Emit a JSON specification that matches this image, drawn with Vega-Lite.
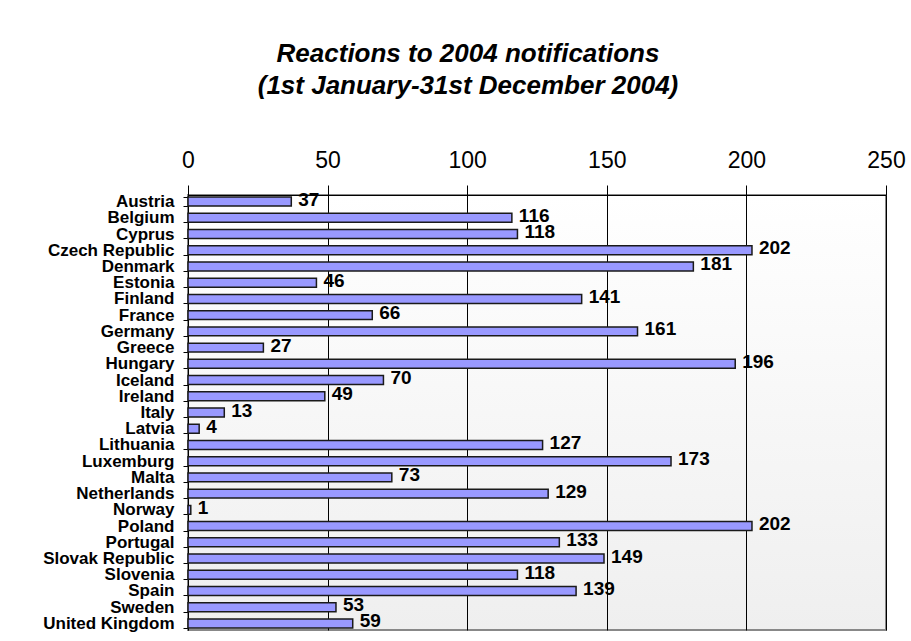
{
  "$schema": "https://vega.github.io/schema/vega-lite/v6.json",
  "width": 698,
  "height": 435,
  "autosize": {"type": "none"},
  "padding": {"left": 188, "top": 195, "right": 25, "bottom": 11},
  "background": "white",
  "title": {
    "text": ["Reactions to 2004 notifications ", "(1st January-31st December 2004)"],
    "font": "Liberation Sans",
    "fontSize": 26,
    "fontStyle": "italic",
    "fontWeight": "bold",
    "color": "black",
    "anchor": "middle",
    "dx": -69,
    "offset": 50,
    "lineHeight": 32
  },
  "config": {
    "font": "Liberation Sans",
    "view": {
      "stroke": "#888888",
      "strokeWidth": 2,
      "fill": {"gradient": "linear", "x1": 0, "y1": 0, "x2": 0, "y2": 1, "stops": [{"offset": 0, "color": "#ffffff"}, {"offset": 1, "color": "#efefef"}]}
    }
  },
  "data": {
    "values": [
      {"country": "Austria", "value": 37},
      {"country": "Belgium", "value": 116},
      {"country": "Cyprus", "value": 118},
      {"country": "Czech Republic", "value": 202},
      {"country": "Denmark", "value": 181},
      {"country": "Estonia", "value": 46},
      {"country": "Finland", "value": 141},
      {"country": "France", "value": 66},
      {"country": "Germany", "value": 161},
      {"country": "Greece", "value": 27},
      {"country": "Hungary", "value": 196},
      {"country": "Iceland", "value": 70},
      {"country": "Ireland", "value": 49},
      {"country": "Italy", "value": 13},
      {"country": "Latvia", "value": 4},
      {"country": "Lithuania", "value": 127},
      {"country": "Luxemburg", "value": 173},
      {"country": "Malta", "value": 73},
      {"country": "Netherlands", "value": 129},
      {"country": "Norway", "value": 1},
      {"country": "Poland", "value": 202},
      {"country": "Portugal", "value": 133},
      {"country": "Slovak Republic", "value": 149},
      {"country": "Slovenia", "value": 118},
      {"country": "Spain", "value": 139},
      {"country": "Sweden", "value": 53},
      {"country": "United Kingdom", "value": 59}
    ]
  },
  "encoding": {
    "y": {
      "field": "country",
      "type": "nominal",
      "sort": null,
      "scale": {"paddingInner": 0.45, "paddingOuter": 0.13},
      "axis": {
        "title": null,
        "labelFontSize": 17,
        "labelFontWeight": "bold",
        "labelColor": "black",
        "tickSize": 5,
        "tickColor": "black",
        "tickBand": "extent",
        "domainColor": "black",
        "labelPadding": 9
      }
    },
    "x": {
      "field": "value",
      "type": "quantitative",
      "scale": {"domain": [0, 250], "nice": false},
      "axis": {
        "orient": "top",
        "title": null,
        "values": [0, 50, 100, 150, 200, 250],
        "labelFontSize": 23,
        "labelColor": "black",
        "labelFlush": false,
        "labelBaseline": "alphabetic",
        "tickSize": 10,
        "tickColor": "black",
        "labelPadding": 18,
        "grid": true,
        "gridColor": "black",
        "gridOpacity": 1,
        "domainColor": "black"
      }
    }
  },
  "layer": [
    {
      "mark": {"type": "bar", "fill": "#9999ff", "stroke": "#1a1a1a", "strokeWidth": 1.5}
    },
    {
      "mark": {"type": "text", "align": "left", "baseline": "middle", "dx": 7, "dy": -2, "fontSize": 19, "fontWeight": "bold", "color": "black"},
      "encoding": {"text": {"field": "value", "type": "quantitative"}}
    }
  ]
}
